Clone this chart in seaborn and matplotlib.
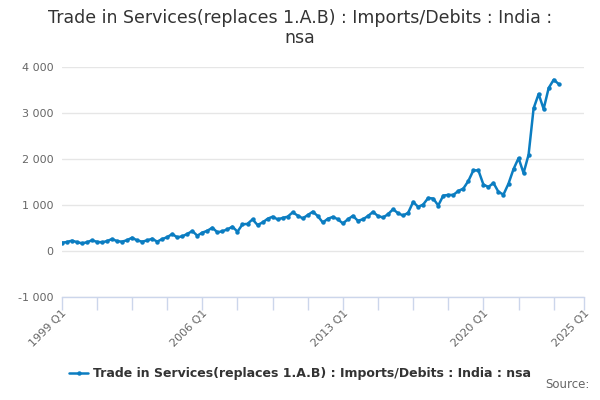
import matplotlib
matplotlib.use("Agg")
import matplotlib.pyplot as plt
import numpy as np
import pandas as pd
import seaborn as sns

# Quarterly values, 1999 Q1 .. 2023 Q4
values = [
    180, 195, 225, 195, 167, 190, 232, 200, 189, 215,
    261, 215, 203, 235, 290, 230, 203, 230, 268, 203,
    260, 300, 370, 297, 320, 370, 435, 333, 400, 440,
    507, 406, 430, 470, 529, 420, 580, 590, 688, 565,
    620, 700, 746, 688, 720, 746, 841, 770, 710, 780,
    855, 760, 620, 700, 742, 690, 599, 690, 764, 656,
    690, 760, 850, 760, 729, 800, 909, 820, 772, 829,
    1067, 959, 1010, 1154, 1140, 989, 1205, 1219, 1219, 1305,
    1357, 1522, 1753, 1753, 1444, 1392, 1479, 1284, 1227, 1465,
    1781, 2019, 1695, 2093, 3101, 3413, 3088, 3543, 3723, 3630,
]
label = "Trade in Services(replaces 1.A.B) : Imports/Debits : India : nsa"

y_ticks = [-1000, 0, 1000, 2000, 3000, 4000]
# x tick every 7 quarters, labelled every 28; axis ends at 2025 Q1
x_tick_names = {0: "1999 Q1", 28: "2006 Q1", 56: "2013 Q1", 84: "2020 Q1", 104: "2025 Q1"}

df = pd.DataFrame({"pos": np.arange(len(values)), "value": values, "series": label})

sns.set_theme(style="white")
plt.rcParams["font.family"] = ["DejaVu Sans"]

blue = "#0b7dc1"
fig = plt.figure(figsize=(6, 4), dpi=100)
ax = fig.add_axes([0.103, 0.2575, 0.87, 0.575])

sns.lineplot(data=df, x="pos", y="value", hue="series", palette=[blue],
             marker="o", markersize=3.2, markeredgewidth=0, linewidth=1.8, ax=ax)

ax.set_xlim(0, 104)
ax.set_ylim(-1000, 4000)
ax.set_yticks(y_ticks)
ax.set_yticklabels([f"{v:,}".replace(",", " ") for v in y_ticks], color="#666666", fontsize=8)
ax.yaxis.grid(True, color="#e6e6e6", linewidth=1)
ax.tick_params(axis="y", left=False, length=0, pad=6)

tick_pos = list(range(0, 104, 7)) + [104]
ax.set_xticks(tick_pos)
ax.set_xticklabels([x_tick_names.get(p, "") for p in tick_pos], rotation=45, ha="right",
                   rotation_mode="anchor", color="#666666", fontsize=8)
ax.tick_params(axis="x", bottom=True, length=9, width=1, color="#ccd6eb", pad=-1)

for side in ["top", "right", "left"]:
    ax.spines[side].set_visible(False)
ax.spines["bottom"].set_color("#ccd6eb")
ax.spines["bottom"].set_linewidth(1)
ax.set_xlabel("")
ax.set_ylabel("")

handles, labels = ax.get_legend_handles_labels()
ax.get_legend().remove()
fig.legend(handles, labels, loc="center", bbox_to_anchor=(0.5, 0.065), frameon=False,
           prop={"weight": "bold", "size": 9}, labelcolor="#333333",
           handlelength=1.5, handletextpad=0.4)

fig.text(0.5, 0.955, "Trade in Services(replaces 1.A.B) : Imports/Debits : India :",
         ha="center", va="center", fontsize=12.5, color="#333333")
fig.text(0.5, 0.905, "nsa", ha="center", va="center", fontsize=12.5, color="#333333")
fig.text(0.983, 0.022, "Source:", ha="right", va="bottom", fontsize=8.5, color="#666666")

fig.savefig("out.png", dpi=100)
